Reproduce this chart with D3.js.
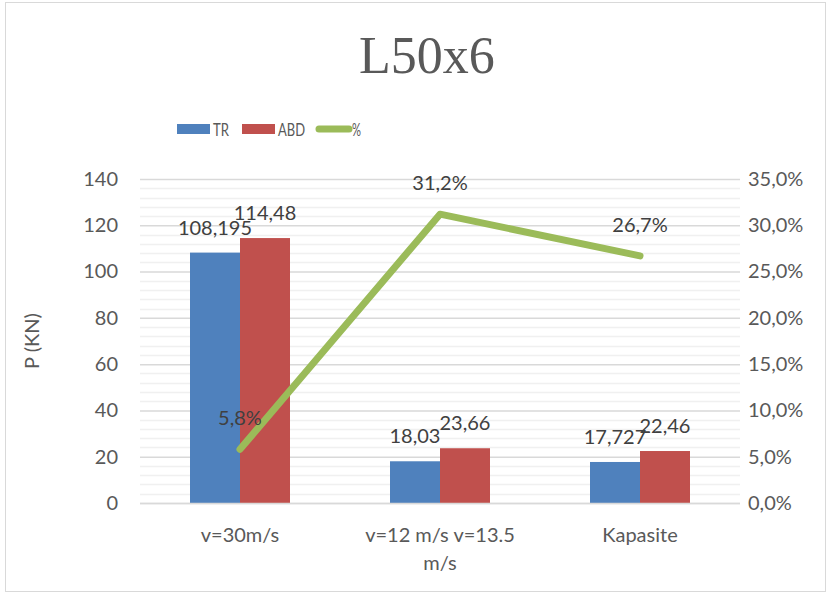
<!DOCTYPE html>
<html>
<head>
<meta charset="utf-8">
<script src="https://cdn.jsdelivr.net/npm/d3@7"></script>
<style>
  html, body { margin: 0; padding: 0; background: #fff; }
  svg { display: block; }
</style>
</head>
<body>
<svg id="chart" width="830" height="594"></svg>
<script>
// Load on the section for each speed case
const categories = [["v=30m/s"], ["v=12 m/s v=13.5", "m/s"], ["Kapasite"]];
const trValues = [108.195, 18.03, 17.727];
const abdValues = [114.48, 23.66, 22.46];
const trLabels = ["108,195", "18,03", "17,727"];
const abdLabels = ["114,48", "23,66", "22,46"];
const pctValues = [5.8, 31.2, 26.7];
const pctLabels = ["5,8%", "31,2%", "26,7%"];
const leftTicks = [0, 20, 40, 60, 80, 100, 120, 140];
const rightTicks = [0, 5, 10, 15, 20, 25, 30, 35];

const W = 830, H = 594;
const plot = { left: 140, right: 740, top: 179, bottom: 503 };
const font = "Lato, 'Open Sans', sans-serif";
const textColor = "#595959";
const colors = { tr: "#4F81BD", abd: "#C0504D", pct: "#9BBB59" };

const svg = d3.select("#chart");

// Outer chart frame
svg.append("rect")
  .attr("x", 5.5).attr("y", 2.5).attr("width", W - 10).attr("height", H - 5)
  .attr("fill", "#fff").attr("stroke", "#d9d9d9").attr("stroke-width", 1);

const idx = categories.map((d, i) => i);
const x = d3.scaleBand().domain(idx).range([plot.left, plot.right]).paddingInner(0).paddingOuter(0);
const inner = d3.scaleBand().domain(["tr", "abd"]).range([0, x.bandwidth()]).paddingInner(0).paddingOuter(1);
const y = d3.scaleLinear().domain([0, 140]).range([plot.bottom, plot.top]);
const y2 = d3.scaleLinear().domain([0, 35]).range([plot.bottom, plot.top]);

// Minor gridlines every 4 kN, major every 20 kN
const minor = d3.range(0, 141, 4).filter(v => v % 20 !== 0);
svg.append("g").selectAll("line").data(minor).join("line")
  .attr("x1", plot.left).attr("x2", plot.right)
  .attr("y1", d => Math.round(y(d)) + 0.5).attr("y2", d => Math.round(y(d)) + 0.5)
  .attr("stroke", "#f0f0f0").attr("stroke-width", 1.5);

const gy = svg.append("g").attr("transform", `translate(${plot.left},0)`)
  .call(d3.axisLeft(y).tickValues(leftTicks).tickSize(-(plot.right - plot.left)).tickPadding(22));
gy.select(".domain").remove();
gy.selectAll(".tick line").attr("stroke", "#d9d9d9").attr("stroke-width", 1.5);
gy.selectAll(".tick text").attr("fill", textColor).style("font", `20px ${font}`);

const gy2 = svg.append("g").attr("transform", `translate(${plot.right},0)`)
  .call(d3.axisRight(y2).tickValues(rightTicks).tickSize(0).tickPadding(8)
    .tickFormat(d => d3.format(".1f")(d).replace(".", ",") + "%"));
gy2.select(".domain").remove();
gy2.selectAll(".tick text").attr("fill", textColor).style("font", `20px ${font}`);

// Bars
const groups = svg.append("g").selectAll("g").data(idx).join("g")
  .attr("transform", i => `translate(${x(i)},0)`);
groups.append("rect")
  .attr("x", inner("tr")).attr("width", inner.bandwidth())
  .attr("y", i => y(trValues[i])).attr("height", i => y(0) - y(trValues[i]))
  .attr("fill", colors.tr);
groups.append("rect")
  .attr("x", inner("abd")).attr("width", inner.bandwidth())
  .attr("y", i => y(abdValues[i])).attr("height", i => y(0) - y(abdValues[i]))
  .attr("fill", colors.abd);

// Category axis baseline
svg.append("line")
  .attr("x1", plot.left).attr("x2", plot.right)
  .attr("y1", y(0) + 0.5).attr("y2", y(0) + 0.5)
  .attr("stroke", "#d9d9d9").attr("stroke-width", 1.5);

// Bar value labels
const labelStyle = sel => sel.attr("text-anchor", "middle").attr("fill", "#404040")
  .style("font", `20px ${font}`);
groups.append("text").call(labelStyle)
  .attr("x", inner("tr") + inner.bandwidth() / 2)
  .attr("y", i => y(trValues[i]) - 18)
  .text(i => trLabels[i]);
groups.append("text").call(labelStyle)
  .attr("x", inner("abd") + inner.bandwidth() / 2)
  .attr("y", i => y(abdValues[i]) - 18)
  .text(i => abdLabels[i]);

// Percentage line on secondary axis
const line = d3.line().x(i => x(i) + x.bandwidth() / 2).y(i => y2(pctValues[i]));
svg.append("path").datum(idx).attr("d", line)
  .attr("fill", "none").attr("stroke", colors.pct).attr("stroke-width", 7)
  .attr("stroke-linecap", "round").attr("stroke-linejoin", "round");
svg.append("g").selectAll("text").data(idx).join("text").call(labelStyle)
  .attr("x", i => x(i) + x.bandwidth() / 2)
  .attr("y", i => y2(pctValues[i]) - 24)
  .text(i => pctLabels[i]);

// Category labels
svg.append("g").selectAll("text").data(idx).join("text")
  .attr("text-anchor", "middle").attr("fill", textColor).style("font", `20px ${font}`)
  .attr("x", i => x(i) + x.bandwidth() / 2)
  .attr("y", 542)
  .selectAll("tspan").data(i => categories[i]).join("tspan")
  .attr("x", function () { return d3.select(this.parentNode).attr("x"); })
  .attr("dy", (d, j) => j === 0 ? 0 : 28)
  .text(d => d);

// Axis title
svg.append("text")
  .attr("transform", `translate(39,${(plot.top + plot.bottom) / 2}) rotate(-90)`)
  .attr("text-anchor", "middle").attr("fill", textColor).style("font", `20px ${font}`)
  .text("P (KN)");

// Chart title
svg.append("text").attr("x", 427).attr("y", 73).attr("text-anchor", "middle")
  .attr("fill", textColor).style("font", `52px 'Liberation Serif', 'DejaVu Serif', serif`)
  .text("L50x6");

// Legend (narrow, tall lettering)
const legend = svg.append("g").attr("transform", "translate(0,129)");
const legendItems = [
  { key: "TR", type: "rect", color: colors.tr, x: 177, w: 16 },
  { key: "ABD", type: "rect", color: colors.abd, x: 242, w: 27 },
  { key: "%", type: "line", color: colors.pct, x: 316, w: 9 }
];
legendItems.forEach(d => {
  if (d.type === "rect") {
    legend.append("rect").attr("x", d.x).attr("y", -5).attr("width", 33).attr("height", 10).attr("fill", d.color);
  } else {
    legend.append("line").attr("x1", d.x + 3).attr("x2", d.x + 33).attr("y1", 0).attr("y2", 0)
      .attr("stroke", d.color).attr("stroke-width", 7).attr("stroke-linecap", "round");
  }
  legend.append("text").attr("x", d.x + 36).attr("y", 7).attr("fill", textColor)
    .attr("textLength", d.w).attr("lengthAdjust", "spacingAndGlyphs")
    .style("font", `18px ${font}`).text(d.key);
});
</script>
</body>
</html>
